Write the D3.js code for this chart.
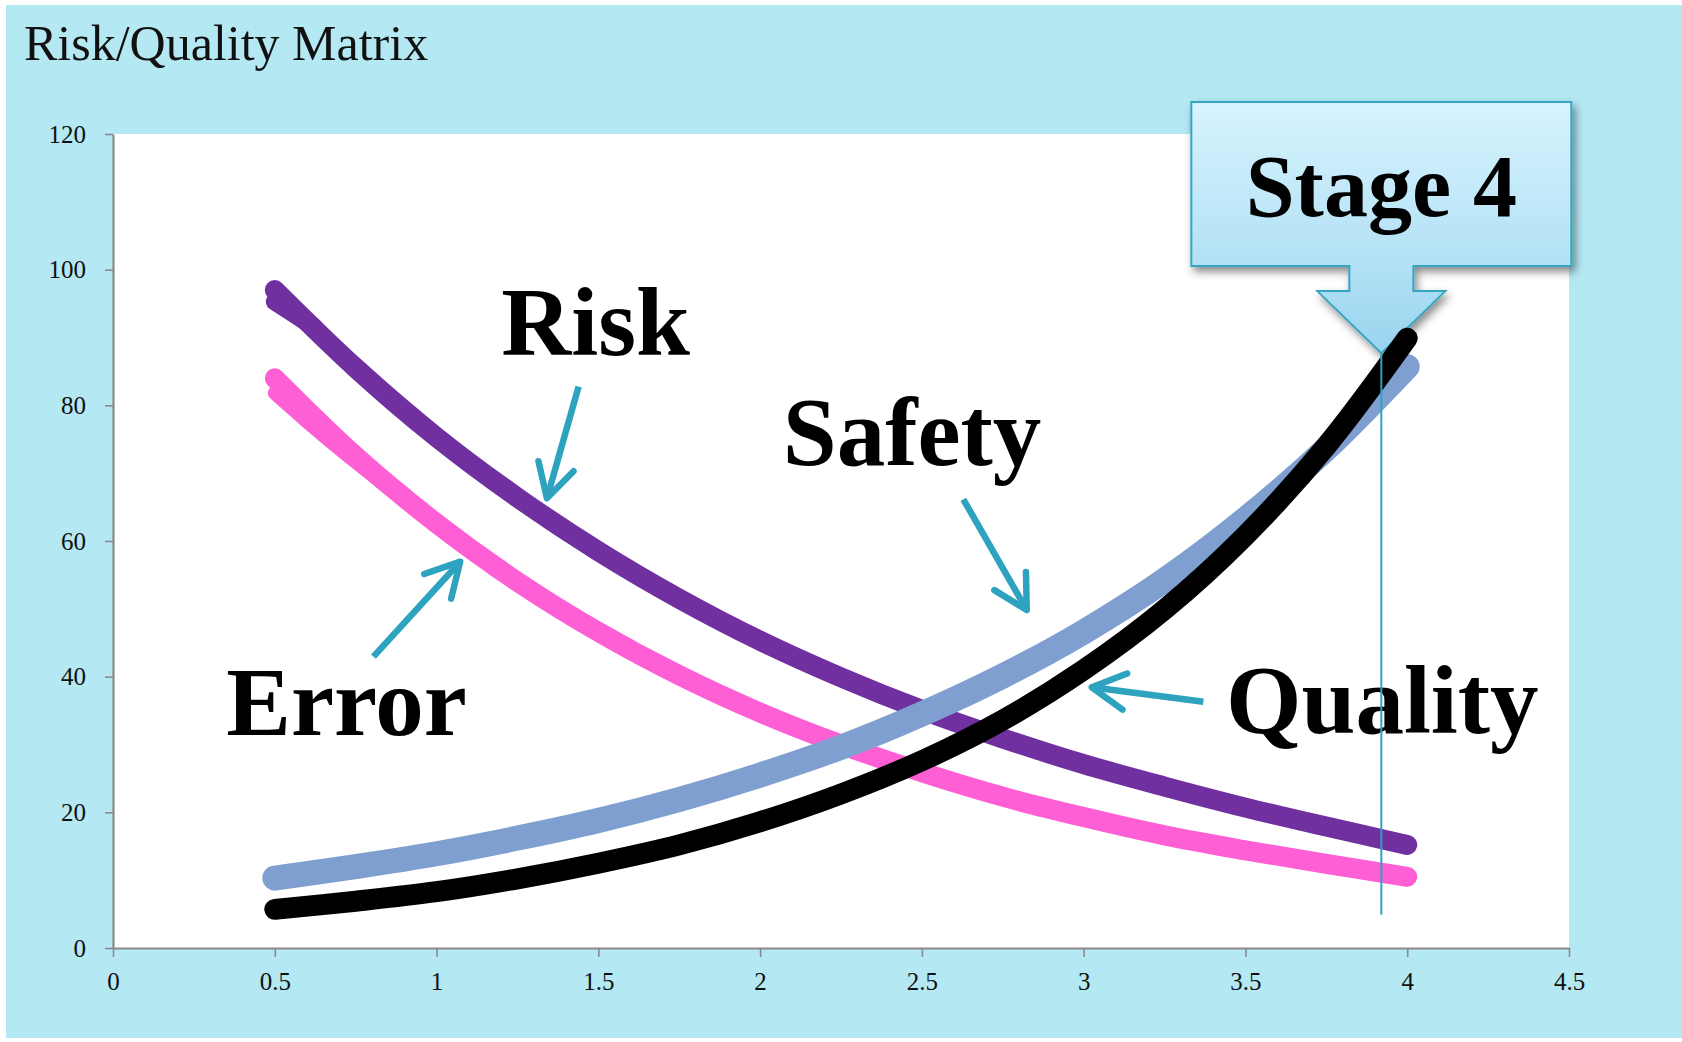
<!DOCTYPE html>
<html>
<head>
<meta charset="utf-8">
<script src="https://cdn.jsdelivr.net/npm/d3@7"></script>
<style>
  body { margin: 0; background: #fff; }
  svg text { font-family: "Liberation Serif", "DejaVu Serif", serif; }
</style>
</head>
<body>
<script>
// values
const xValues = [0.5, 0.75, 1, 1.25, 1.5, 1.75, 2, 2.25, 2.5, 2.75, 3, 3.25, 3.5, 3.75, 4];
const riskValues = [97, 85.5, 75.3, 66.4, 58.5, 51.5, 45.3, 39.9, 35.1, 30.9, 27.1, 23.8, 20.7, 17.9, 15.2];
const errorValues = [84, 72.5, 62.6, 54, 46.6, 40.2, 34.7, 30, 25.9, 22.3, 19.3, 16.6, 14.4, 12.4, 10.5];
const safetyValues = [10.3, 12, 13.9, 16.2, 18.8, 21.9, 25.5, 29.6, 34.5, 40.1, 46.6, 54.2, 63.2, 73.6, 85.7];
const qualityValues = [5.7, 6.9, 8.3, 10.2, 12.5, 15.2, 18.6, 22.7, 27.6, 33.6, 41, 49.9, 60.8, 74, 89.9];
// the little doubled starts of the risk and error strokes
const riskTraceX = [0.5, 0.62];
const riskTraceValues = [95.3, 91.6];
const errorTraceX = [0.5, 0.6, 0.7, 0.85];
const errorTraceValues = [81.8, 77.6, 73.6, 67.9];

const yTicks = [0, 20, 40, 60, 80, 100, 120];
const xTicks = [0, 0.5, 1, 1.5, 2, 2.5, 3, 3.5, 4, 4.5];

// stage marker
const stageX = 3.92;
const stageTop = 87.7;
const stageBottom = 4.9;

const labels = [
    { text: "Risk", x: 1.2, y: 87.4 },
    { text: "Safety", x: 2.07, y: 71.2 },
    { text: "Error", x: 0.35, y: 31.4 },
    { text: "Quality", x: 3.44, y: 31.7 }
];
const arrows = [
    { x1: 1.439, y1: 82.75, x2: 1.341, y2: 66.3 },
    { x1: 0.805, y1: 42.95, x2: 1.073, y2: 56.95 },
    { x1: 2.628, y1: 66.15, x2: 2.824, y2: 49.83 },
    { x1: 3.37, y1: 36.31, x2: 3.025, y2: 38.43 }
];

const W = 1682, H = 1042;
const plot = { left: 113, right: 1569, top: 134, bottom: 948 };
const accent = "#2ea3c0";

const svg = d3.select("body").append("svg")
    .attr("width", W)
    .attr("height", H);

const defs = svg.append("defs");
const grad = defs.append("linearGradient")
    .attr("id", "calloutFill")
    .attr("x1", 0).attr("y1", 0).attr("x2", 0).attr("y2", 1);
grad.append("stop").attr("offset", "0%").attr("stop-color", "#d7f3fe");
grad.append("stop").attr("offset", "62%").attr("stop-color", "#b4e2f5");
grad.append("stop").attr("offset", "100%").attr("stop-color", "#98d4ee");

const shadow = defs.append("filter")
    .attr("id", "shadow")
    .attr("x", "-10%").attr("y", "-10%")
    .attr("width", "130%").attr("height", "130%");
shadow.append("feDropShadow")
    .attr("dx", 3).attr("dy", 5)
    .attr("stdDeviation", 4)
    .attr("flood-color", "#000")
    .attr("flood-opacity", 0.45);

// background
svg.append("rect")
    .attr("x", 6).attr("y", 5)
    .attr("width", W - 6).attr("height", 1033)
    .attr("fill", "#b4e8f3");

svg.append("rect")
    .attr("x", plot.left).attr("y", plot.top)
    .attr("width", plot.right - plot.left)
    .attr("height", plot.bottom - plot.top)
    .attr("fill", "#fff");

svg.append("text")
    .attr("x", 24).attr("y", 60)
    .attr("font-size", 50)
    .attr("fill", "#111")
    .text("Risk/Quality Matrix");

const x = d3.scaleLinear().domain([0, 4.5]).range([plot.left, plot.right]);
const y = d3.scaleLinear().domain([0, 120]).range([plot.bottom, plot.top]);

// axes
const yAxisG = svg.append("g")
    .attr("transform", `translate(${plot.left},0)`)
    .call(d3.axisLeft(y).tickValues(yTicks).tickSize(8).tickSizeOuter(0).tickPadding(19));

const xAxisG = svg.append("g")
    .attr("transform", `translate(0,${plot.bottom})`)
    .call(d3.axisBottom(x).tickValues(xTicks).tickSize(9).tickSizeOuter(0).tickPadding(15)
        .tickFormat(d => String(d)));

[yAxisG, xAxisG].forEach(g => {
    g.select(".domain").attr("stroke", "#8a8a8a").attr("stroke-width", 2.2);
    g.selectAll(".tick line").attr("stroke", "#8a8a8a").attr("stroke-width", 1.6);
    g.selectAll(".tick text")
        .attr("fill", "#111")
        .style("font-family", "'Liberation Serif', serif")
        .style("font-size", "25px");
});

// Stage 4 callout
const cx = x(stageX);
const tipY = y(stageTop);
const calloutPath = d3.path();
calloutPath.moveTo(cx - 190, tipY - 251);
calloutPath.lineTo(cx + 190, tipY - 251);
calloutPath.lineTo(cx + 190, tipY - 87);
calloutPath.lineTo(cx + 32, tipY - 87);
calloutPath.lineTo(cx + 32, tipY - 62);
calloutPath.lineTo(cx + 64, tipY - 62);
calloutPath.lineTo(cx, tipY);
calloutPath.lineTo(cx - 64, tipY - 62);
calloutPath.lineTo(cx - 32, tipY - 62);
calloutPath.lineTo(cx - 32, tipY - 87);
calloutPath.lineTo(cx - 190, tipY - 87);
calloutPath.closePath();

svg.append("path")
    .attr("d", calloutPath.toString())
    .attr("fill", "url(#calloutFill)")
    .attr("stroke", "#35a5c2")
    .attr("stroke-width", 2)
    .attr("filter", "url(#shadow)");

svg.append("text")
    .attr("x", cx).attr("y", tipY - 137)
    .attr("text-anchor", "middle")
    .attr("font-size", 88)
    .attr("font-weight", "bold")
    .attr("fill", "#000")
    .text("Stage 4");

// series
const line = d3.line()
    .x(d => x(d[0]))
    .y(d => y(d[1]))
    .curve(d3.curveCatmullRom.alpha(0.5));

const series = [
    { name: "Error", xs: xValues, values: errorValues, color: "#ff5fd5", width: 20 },
    { name: "ErrorTrace", xs: errorTraceX, values: errorTraceValues, color: "#ff5fd5", width: 14 },
    { name: "Risk", xs: xValues, values: riskValues, color: "#7030a0", width: 20 },
    { name: "RiskTrace", xs: riskTraceX, values: riskTraceValues, color: "#7030a0", width: 18 },
    { name: "Safety", xs: xValues, values: safetyValues, color: "#7e9fcf", width: 25 },
    { name: "Quality", xs: xValues, values: qualityValues, color: "#000000", width: 21 }
];

svg.append("g")
    .selectAll("path")
    .data(series)
    .join("path")
    .attr("d", s => line(s.xs.map((v, i) => [v, s.values[i]])))
    .attr("fill", "none")
    .attr("stroke", s => s.color)
    .attr("stroke-width", s => s.width)
    .attr("stroke-linecap", "round")
    .attr("stroke-linejoin", "round");

// big labels
svg.append("g")
    .selectAll("text")
    .data(labels)
    .join("text")
    .attr("x", d => x(d.x))
    .attr("y", d => y(d.y))
    .attr("font-size", 97)
    .attr("font-weight", "bold")
    .attr("fill", "#000")
    .text(d => d.text);

// pointer arrows
const headLen = 38, headAngle = 0.5;
const arrowG = svg.append("g")
    .attr("stroke", accent)
    .attr("stroke-width", 6.5)
    .attr("fill", "none")
    .attr("stroke-linecap", "round")
    .attr("stroke-linejoin", "round");

arrows.forEach(a => {
    const x1 = x(a.x1), y1 = y(a.y1), x2 = x(a.x2), y2 = y(a.y2);
    const ang = Math.atan2(y2 - y1, x2 - x1);
    arrowG.append("line")
        .attr("x1", x1).attr("y1", y1)
        .attr("x2", x2).attr("y2", y2)
        .attr("stroke-linecap", "butt");
    const p = d3.path();
    p.moveTo(x2 - headLen * Math.cos(ang - headAngle), y2 - headLen * Math.sin(ang - headAngle));
    p.lineTo(x2, y2);
    p.lineTo(x2 - headLen * Math.cos(ang + headAngle), y2 - headLen * Math.sin(ang + headAngle));
    arrowG.append("path").attr("d", p.toString());
});

// stage marker line
svg.append("line")
    .attr("x1", x(stageX)).attr("x2", x(stageX))
    .attr("y1", y(stageTop)).attr("y2", y(stageBottom))
    .attr("stroke", accent)
    .attr("stroke-width", 2);
</script>
</body>
</html>
